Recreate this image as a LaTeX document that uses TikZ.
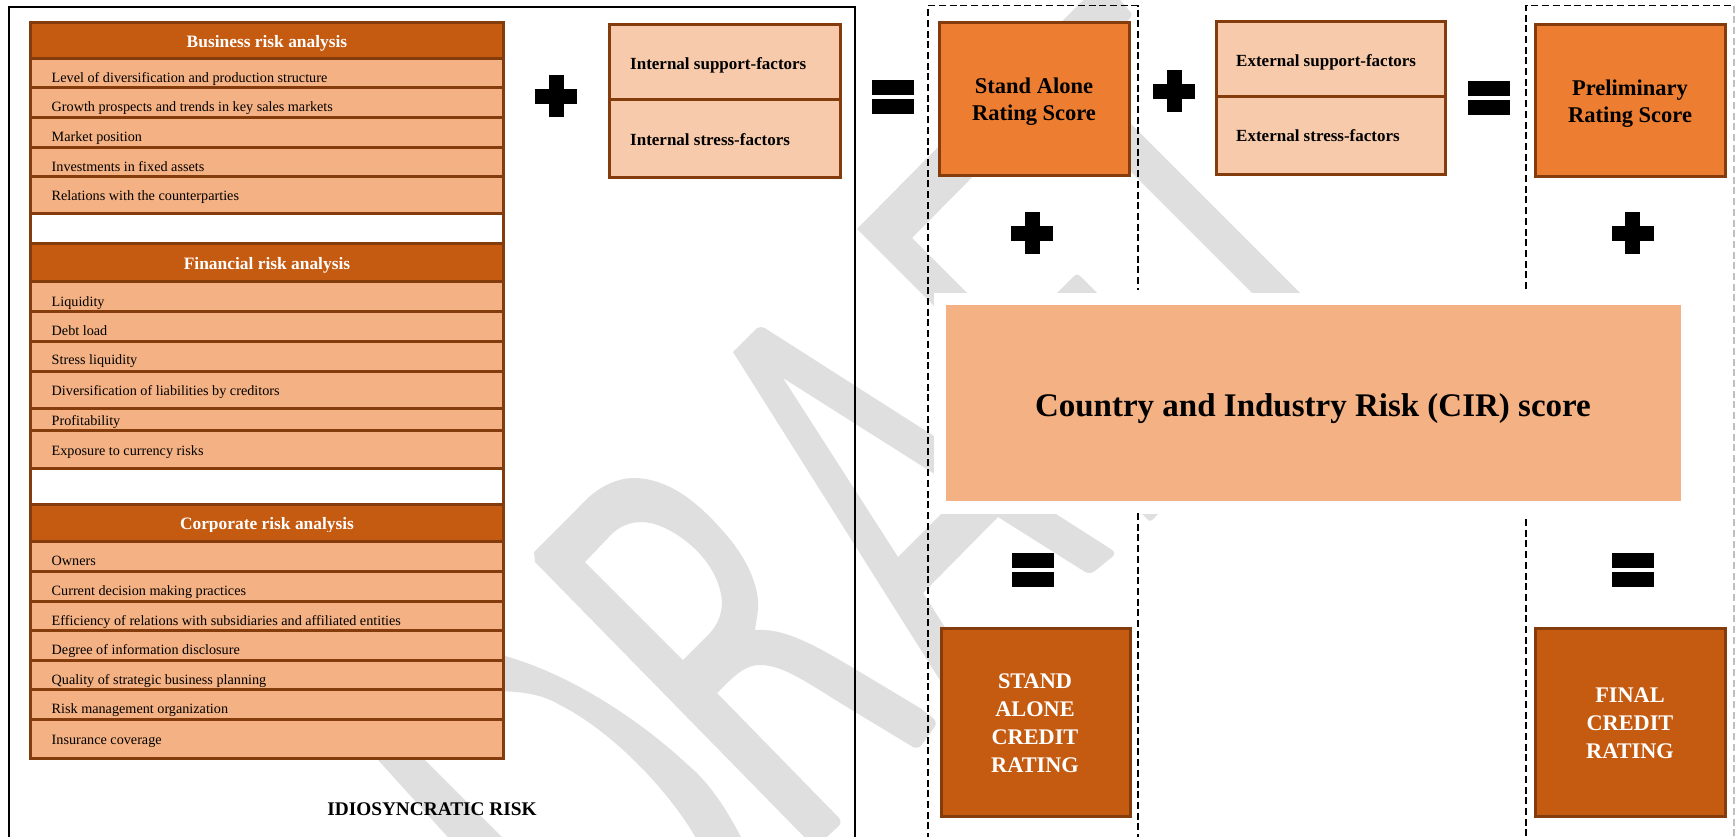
\documentclass[tikz,border=0pt]{standalone}
\usepackage{fontspec}
\setmainfont{Liberation Serif}
\usetikzlibrary{positioning}
\definecolor{headfill}{HTML}{C55A11}
\definecolor{edgebrown}{HTML}{843C0C}
\definecolor{rowfill}{HTML}{F4B183}
\definecolor{sidefill}{HTML}{F7CAAC}
\definecolor{scorefill}{HTML}{ED7D31}
\definecolor{markgray}{HTML}{DFDFDF}
\tikzset{
  headbox/.style={draw=edgebrown, line width=3pt, fill=headfill},
  rowbox/.style={draw=edgebrown, line width=3pt, fill=rowfill},
  sidebox/.style={draw=edgebrown, line width=3pt, fill=sidefill},
  scorebox/.style={draw=edgebrown, line width=3pt, fill=scorefill},
  rowtext/.style={anchor=west, inner sep=0pt, font=\fontsize{14.2}{16}\selectfont},
  headtext/.style={inner sep=0pt, text=white, font=\fontsize{17.4}{19}\selectfont\bfseries},
  sidetext/.style={anchor=west, inner sep=0pt, font=\fontsize{17}{19}\selectfont\bfseries},
  scoretext/.style={align=center, inner sep=0pt, font=\fontsize{22.5}{27.5}\selectfont\bfseries},
  ratetext/.style={align=center, inner sep=0pt, text=white, font=\fontsize{22.3}{28}\selectfont\bfseries},
  dashbox/.style={draw=black, line width=1.7pt, dash pattern=on 7pt off 3.7pt}
}
\begin{document}
\begin{tikzpicture}[x=1pt, y=-1pt]
    \useasboundingbox (0,0) rectangle (1735,836);
    \fill[white] (0,0) rectangle (1735,836);

    % watermark letters
    \begin{scope}
      \clip (0,0) rectangle (1735,836);
      % D
      \fill[markgray] (480,650) .. controls (560,665) and (640,720) .. (688,765)
        .. controls (712,785) and (730,815) .. (745,845) -- (700,845)
        .. controls (670,790) and (610,730) .. (560,705)
        .. controls (535,690) and (510,692) .. (480,690) -- cycle;
      \fill[markgray] (360,740) -- (423,758) -- (510,845) -- (455,845) -- cycle;
      % R
      \fill[markgray, even odd rule] [rounded corners=6pt] (534,552) -- (580,506) [sharp corners]
        .. controls (600,485) and (620,478) .. (633,478)
        .. controls (670,478) and (700,505) .. (722,530)
        .. controls (745,555) and (760,585) .. (758,610)
        -- (755,630)
        .. controls (785,628) and (815,645) .. (860,672)
        -- (920,708) [rounded corners=6pt] -- (938,722) -- (918,750) [sharp corners]
        -- (860,715)
        .. controls (810,685) and (785,665) .. (760,665)
        .. controls (745,665) and (735,675) .. (717,693)
        [rounded corners=6pt] -- (843,822) -- (815,848) [sharp corners] -- (535,562) -- cycle
        (585,562) -- (683,660) -- (705,638)
        .. controls (725,620) and (723,600) .. (720,590)
        .. controls (710,550) and (665,522) .. (642,522)
        .. controls (625,522) and (615,530) .. (608,538) -- cycle;
      % A
      \fill[markgray, even odd rule] [rounded corners=6pt] (733,352) -- (760,325) -- (1117,553) -- (1090,575) [sharp corners]
        -- (998,517) -- (923,593) -- (985,690) -- (960,712) -- cycle
        (783,378) -- (898,557) -- (963,492) -- cycle;
      % F
      \fill[markgray] [rounded corners=8pt] (857,229) -- (1103,-20) [rounded corners=4pt] -- (1133,15) [sharp corners]
        -- (912,238) -- (1012,338) [rounded corners=4pt] -- (1077,273) -- (1120,316) [sharp corners]
        -- (1043,370) -- (1173,499) [rounded corners=3pt] -- (1150,522) [sharp corners] -- cycle;
      % last bar
      \fill[markgray] (1090,83) -- (1320,313) -- (1272,313) -- (1110,151) -- cycle;
    \end{scope}

    % frames
    \draw[line width=2pt] (9,840) -- (9,7) -- (855,7) -- (855,840);
    \fill[white] (934,293) rectangle (1700,514);
    \draw[dashbox] (928,840) -- (928,5.5) -- (1138,5.5) -- (1138,290);
    \draw[dashbox] (1138,513) -- (1138,840);
    \draw[dashbox] (1526,289) -- (1526,5.5) -- (1734,5.5);
    \draw[dashbox] (1526,519) -- (1526,840);
    \draw[dashbox, draw=black!25] (1734,5.5) -- (1734,840);

    % business risk table
    \draw[headbox] (30.5,22) rectangle (503,58);
    \node[headtext] (bizhead) at (267,43.5) {Business risk analysis};
    \foreach \name/\top/\bot/\mid/\txt in {
        biza/58/87/79/Level of diversification and production structure,
        bizb/87/117/108/Growth prospects and trends in key sales markets,
        bizc/117/147/138/Market position,
        bizd/147/176/166.5/Investments in fixed assets,
        bize/176/213/197/Relations with the counterparties}
    {
        \draw[rowbox] (30.5,\top) rectangle (503,\bot);
        \node[rowtext] (\name) at (51.5,\mid) {\txt};
    }
    \draw[draw=edgebrown, line width=3pt] (30.5,213) rectangle (503,243);

    % financial risk table
    \draw[headbox] (30.5,243) rectangle (503,281);
    \node[headtext] (finhead) at (267,265) {Financial risk analysis};
    \foreach \name/\top/\bot/\mid/\txt in {
        fina/281/311/303/Liquidity,
        finb/311/341/330.5/Debt load,
        finc/341/371/361.5/Stress liquidity,
        find/371/408/392.5/Diversification of liabilities by creditors,
        fine/408/430/422/Profitability,
        finf/430/468/452.5/Exposure to currency risks}
    {
        \draw[rowbox] (30.5,\top) rectangle (503,\bot);
        \node[rowtext] (\name) at (51.5,\mid) {\txt};
    }
    \draw[draw=edgebrown, line width=3pt] (30.5,468) rectangle (503,504);

    % corporate risk table
    \draw[headbox] (30.5,504) rectangle (503,541);
    \node[headtext] (corphead) at (267,525.5) {Corporate risk analysis};
    \fill[headfill] (100,531.5) rectangle (450,539);
    \foreach \name/\top/\bot/\mid/\txt in {
        corpa/541/571/561/Owners,
        corpb/571/601/592.5/Current decision making practices,
        corpc/601/630/622/Efficiency of relations with subsidiaries and affiliated entities,
        corpd/630/660/651.5/Degree of information disclosure,
        corpe/660/689/681.5/Quality of strategic business planning,
        corpf/689/719/710.5/Risk management organization,
        corpg/719/758/741/Insurance coverage}
    {
        \draw[rowbox] (30.5,\top) rectangle (503,\bot);
        \node[rowtext] (\name) at (51.5,\mid) {\txt};
    }
    \node[inner sep=0pt, font=\fontsize{19.3}{22}\selectfont\bfseries] (idio) at (432,809) {IDIOSYNCRATIC RISK};

    % support and stress boxes
    \draw[sidebox] (609,24) rectangle (840,99);
    \draw[sidebox] (609,99) rectangle (840,177);
    \node[sidetext] (intsup) at (630,65) {Internal support-factors};
    \node[sidetext] (intstr) at (630,140) {Internal stress-factors};
    \draw[sidebox] (1216,21) rectangle (1445,96);
    \draw[sidebox] (1216,96) rectangle (1445,174);
    \node[sidetext] (extsup) at (1236,62) {External support-factors};
    \node[sidetext] (extstr) at (1236,136) {External stress-factors};

    % score boxes
    \draw[scorebox] (939,22) rectangle (1129,175);
    \node[scoretext] (alone) at (1034,101.5) {Stand Alone\\Rating Score};
    \draw[scorebox] (1535,24) rectangle (1725,176);
    \node[scoretext] (prelim) at (1630,103.5) {Preliminary\\Rating Score};

    % country box
    \fill[rowfill] (946,305) rectangle (1681,501);
    \node[inner sep=0pt, font=\fontsize{33}{38}\selectfont\bfseries] (cir) at (1313,409) {Country and Industry Risk (CIR) score};

    % rating boxes
    \draw[headbox] (941,628) rectangle (1130,816);
    \node[ratetext] (rateone) at (1035,723) {STAND\\ALONE\\CREDIT\\RATING};
    \draw[headbox] (1535,628) rectangle (1725,816);
    \node[ratetext] (ratetwo) at (1630,723) {FINAL\\CREDIT\\RATING};

    % plus and equals signs
    \foreach \x/\y in {556/96,1174/91,1032/233,1632.5/233}
    {
        \fill (\x-21,\y-7.5) rectangle (\x+21,\y+7.5);
        \fill (\x-7.5,\y-21) rectangle (\x+7.5,\y+21);
    }
    \foreach \x/\y in {893/80,1489/81,1032.5/553,1632.5/553}
    {
        \fill (\x-21,\y) rectangle (\x+21,\y+15);
        \fill (\x-21,\y+19) rectangle (\x+21,\y+34);
    }
\end{tikzpicture}
\end{document}
